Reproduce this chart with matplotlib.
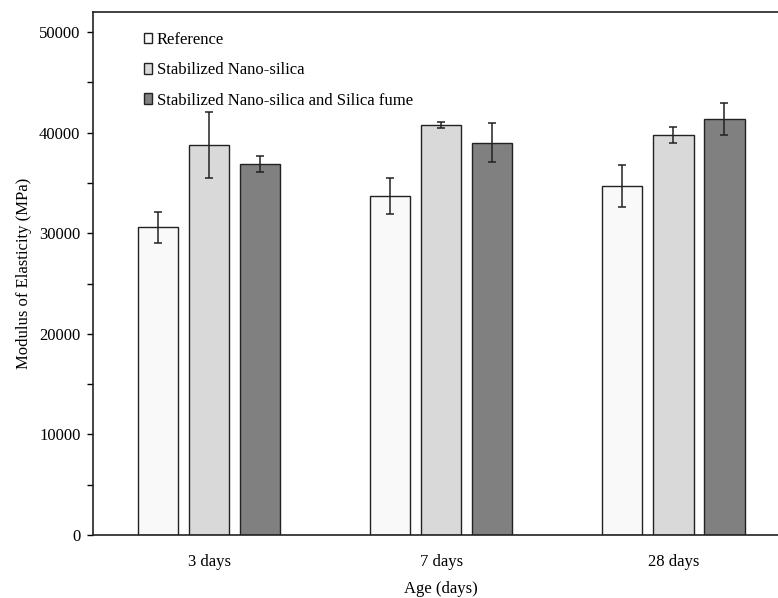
import numpy as np
import matplotlib
matplotlib.use('Agg')
import matplotlib.pyplot as plt
from matplotlib.ticker import MultipleLocator

plt.rcParams['font.family'] = ['Liberation Serif', 'DejaVu Serif']

# data
ages = ['3 days', '7 days', '28 days']
series = ['Reference', 'Stabilized Nano-silica',
          'Stabilized Nano-silica and Silica fume']
ref_vals = [30600, 33700, 34700]
ref_errs = [1550, 1800, 2100]
nano_vals = [38800, 40770, 39800]
nano_errs = [3280, 280, 800]
sf_vals = [36900, 39000, 41350]
sf_errs = [800, 1930, 1560]

colors = ['#f9f9f9', '#d9d9d9', '#808080']
vals = [ref_vals, nano_vals, sf_vals]
errs = [ref_errs, nano_errs, sf_errs]

fig = plt.figure(figsize=(7.78, 5.98), dpi=100)
ax = fig.add_axes([0.1195, 0.1054, 0.895, 0.8746])

x = np.arange(len(ages))
width = 0.175
step = 0.22
for i, (v, e) in enumerate(zip(vals, errs)):
    ax.bar(x + (i - 1) * step, v, width, color=colors[i], edgecolor='#222222',
           linewidth=1.0, label=series[i], zorder=2)
    ax.errorbar(x + (i - 1) * step, v, yerr=e, fmt='none', ecolor='#222222',
                elinewidth=1.1, capsize=3.2, capthick=1.1, zorder=3)

ax.set_xlim(-0.5, 2.5)
ax.set_ylim(0, 52000)
ax.yaxis.set_major_locator(MultipleLocator(10000))
ax.yaxis.set_minor_locator(MultipleLocator(5000))
ax.tick_params(axis='y', which='major', direction='out', length=4.5, width=1,
               labelsize=12, pad=4.5)
ax.tick_params(axis='y', which='minor', direction='out', length=4, width=1)
ax.set_xticks(x)
ax.set_xticklabels(ages)
ax.tick_params(axis='x', length=0, labelsize=12, pad=13.5)

for s in ax.spines.values():
    s.set_linewidth(1.2)
    s.set_color('#222222')

ax.set_ylabel('Modulus of Elasticity (MPa)', fontsize=12, labelpad=5)
ax.set_xlabel('Age (days)', fontsize=12, labelpad=8)

ax.legend(loc='upper left', bbox_to_anchor=(0.0732, 0.962), frameon=False,
          fontsize=12, borderpad=0, borderaxespad=0, handlelength=0.48,
          handleheight=0.62, handletextpad=0.28, labelspacing=0.86)

fig.savefig('out.png', dpi=100)
